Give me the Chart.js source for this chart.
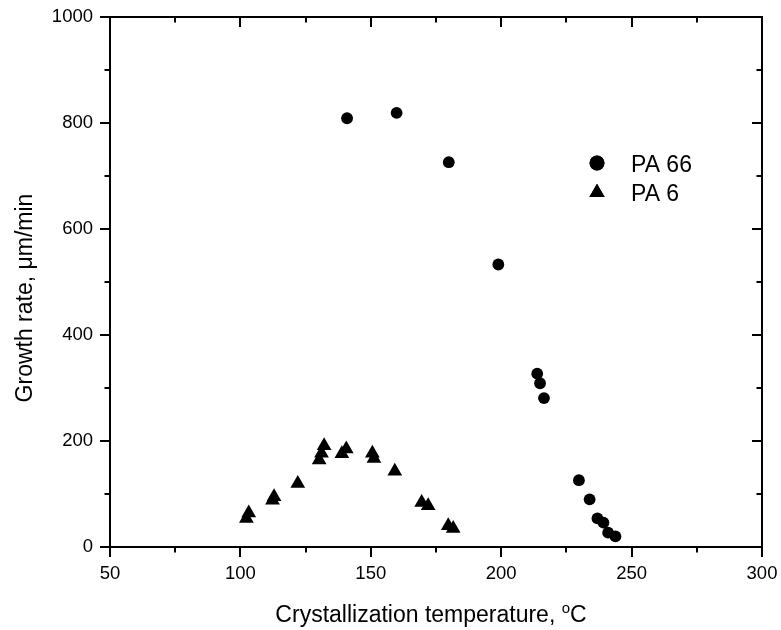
<!DOCTYPE html>
<html><head><meta charset="utf-8">
<script src="https://cdn.jsdelivr.net/npm/chart.js@4/dist/chart.umd.min.js"></script>
<style>html,body{margin:0;padding:0;background:#fff}#wrap{width:781px;height:630px}</style>
</head><body><div id="wrap"><canvas id="c" width="781" height="630"></canvas></div>
<script>
// ---- data ----
const seriesNames = ['PA 66', 'PA 6'];
const pa66Temp = [140.9, 159.9, 179.9, 198.9, 213.8, 214.9, 216.4, 229.8, 233.9, 236.9, 239.2, 241.0, 243.8];
const pa66Rate = [809, 819, 726, 533, 327, 309, 281, 126, 90, 54, 46, 27, 20];
const pa6Temp = [102.3, 103.2, 112.3, 112.9, 122.0, 130.2, 131.1, 132.1, 138.9, 140.6, 150.6, 151.2, 159.2, 169.5, 172.0, 179.7, 181.6];
const pa6Rate = [54, 64, 88, 95, 120, 164, 177, 191, 176, 185, 177, 167, 143, 84, 78, 40, 35];
const xTickValues = [50, 100, 150, 200, 250, 300];
const yTickValues = [0, 200, 400, 600, 800, 1000];
const xTitleMain = 'Crystallization temperature, ';
const xTitleSup = 'o';
const xTitleUnit = 'C';
const yTitle = 'Growth rate, \u03bcm/min';

const FONT = '"Liberation Sans", Arial, Helvetica, sans-serif';
const toPts = (xs, ys) => xs.map((x, i) => ({x: x, y: ys[i]}));

const framePlugin = {
  id: 'frame',
  afterDraw(chart) {
    const ctx = chart.ctx;
    const a = chart.chartArea;
    const xs = chart.scales.x, ys = chart.scales.y;
    ctx.save();
    ctx.strokeStyle = '#000';
    ctx.lineWidth = 2;
    ctx.lineCap = 'butt';
    ctx.strokeRect(a.left, a.top, a.right - a.left, a.bottom - a.top);
    const MAJ = 10, MIN = 5.5;
    ctx.beginPath();
    for (let v = xs.min; v <= xs.max + 1e-9; v += 25) {
      const px = Math.round(xs.getPixelForValue(v));
      const L = xTickValues.includes(v) ? MAJ : MIN;
      ctx.moveTo(px, a.bottom); ctx.lineTo(px, a.bottom + L);
      ctx.moveTo(px, a.top); ctx.lineTo(px, a.top + L);
    }
    for (let v = ys.min; v <= ys.max + 1e-9; v += 100) {
      const py = Math.round(ys.getPixelForValue(v));
      const L = yTickValues.includes(v) ? MAJ : MIN;
      ctx.moveTo(a.left - L, py); ctx.lineTo(a.left, py);
      ctx.moveTo(a.right - L, py); ctx.lineTo(a.right, py);
    }
    ctx.stroke();

    // axis titles
    ctx.fillStyle = '#000';
    ctx.textBaseline = 'alphabetic';
    const tf = '23px ' + FONT;
    const sf = '15px ' + FONT;
    ctx.font = tf;
    const w1 = ctx.measureText(xTitleMain).width;
    const w3 = ctx.measureText(xTitleUnit).width;
    ctx.font = sf;
    const w2 = ctx.measureText(xTitleSup).width;
    const total = w1 + w2 + w3;
    const x0 = 431 - total / 2;
    const by = 622;
    ctx.font = tf; ctx.textAlign = 'left';
    ctx.fillText(xTitleMain, x0, by);
    ctx.font = sf;
    ctx.fillText(xTitleSup, x0 + w1, by - 9);
    ctx.font = tf;
    ctx.fillText(xTitleUnit, x0 + w1 + w2, by);

    ctx.save();
    ctx.translate(32, 298);
    ctx.rotate(-Math.PI / 2);
    ctx.textAlign = 'center';
    ctx.font = tf;
    ctx.fillText(yTitle, 0, 0);
    ctx.restore();

    // legend
    const ds = chart.data.datasets;
    const rows = [{y: 163, ty: 171.5}, {y: 192.5, ty: 201}];
    ds.forEach((d, i) => {
      Chart.helpers.drawPoint(ctx, {
        pointStyle: d.pointStyle, radius: i === 0 ? 7.5 : 8.8, rotation: 0, borderWidth: 0
      }, 597, rows[i].y);
      ctx.fillStyle = '#000';
      ctx.fill();
      ctx.font = '23px ' + FONT;
      ctx.textAlign = 'left';
      ctx.fillText(d.label, 631, rows[i].ty);
    });
    ctx.restore();
  }
};

new Chart(document.getElementById('c'), {
  type: 'scatter',
  data: {
    datasets: [
      {label: seriesNames[0], data: toPts(pa66Temp, pa66Rate), pointStyle: 'circle',
       pointRadius: 5.9, pointHoverRadius: 5.9, backgroundColor: '#000', borderColor: '#000', borderWidth: 0},
      {label: seriesNames[1], data: toPts(pa6Temp, pa6Rate), pointStyle: 'triangle',
       pointRadius: 8.5, pointHoverRadius: 8.5, backgroundColor: '#000', borderColor: '#000', borderWidth: 0}
    ]
  },
  options: {
    responsive: false,
    animation: false,
    devicePixelRatio: 1,
    layout: {padding: {top: 17, right: 19, left: 0, bottom: 0}},
    plugins: {legend: {display: false}, tooltip: {enabled: false}, title: {display: false}},
    scales: {
      x: {
        type: 'linear', min: 50, max: 300,
        grid: {display: false, drawTicks: false},
        border: {display: false},
        afterBuildTicks: s => { s.ticks = xTickValues.map(v => ({value: v})); },
        afterFit: s => { s.height = 83; s.paddingLeft = 0; s.paddingRight = 0; },
        ticks: {color: '#000', padding: 16, font: {family: FONT, size: 18.5}, maxRotation: 0,
                callback: v => String(v)}
      },
      y: {
        type: 'linear', min: 0, max: 1000,
        grid: {display: false, drawTicks: false},
        border: {display: false},
        afterBuildTicks: s => { s.ticks = yTickValues.map(v => ({value: v})); },
        afterFit: s => { s.width = 110; s.paddingTop = 0; s.paddingBottom = 0; },
        ticks: {color: '#000', padding: 17, font: {family: FONT, size: 18.5},
                callback: v => String(v)}
      }
    }
  },
  plugins: [framePlugin]
});
</script>
</body></html>
